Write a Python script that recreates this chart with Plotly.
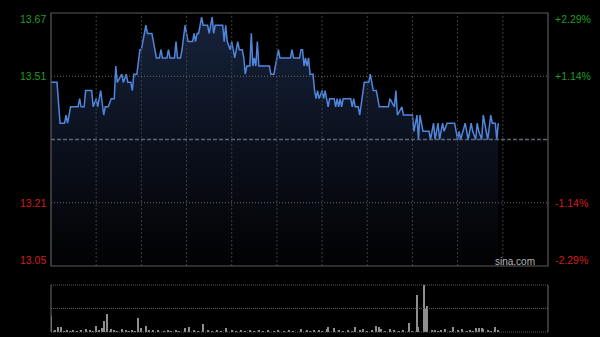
import plotly.graph_objects as go

# ---------------- data ----------------
minutes = [0, 4, 6, 9, 10, 11, 13, 18, 19, 20, 22, 23, 27, 28, 30, 31, 33, 35, 36, 38,
           40, 42, 43, 44, 47, 48, 50, 51, 53, 54, 55, 57, 59, 60, 63, 64, 67, 70, 72, 73,
           74, 77, 78, 79, 82, 83, 84, 86, 87, 89, 90, 91, 94, 95, 96, 97, 98, 100, 101, 104,
           105, 107, 108, 109, 114, 115, 116, 117, 119, 120, 121, 122, 123, 124, 125, 127, 128, 129, 130, 132,
           133, 134, 135, 136, 137, 138, 145, 146, 148, 149, 151, 152, 159, 160, 161, 165, 166, 167, 168, 169,
           170, 171, 172, 174, 175, 176, 177, 178, 180, 181, 182, 184, 185, 188, 189, 190, 191, 192, 193, 194,
           199, 200, 201, 202, 204, 205, 207, 208, 211, 212, 213, 214, 216, 218, 224, 225, 228, 229, 230, 233,
           234, 240, 241, 243, 244, 245, 247, 251, 252, 254, 255, 257, 258, 260, 261, 263, 268, 269, 270, 271,
           272, 275, 277, 279, 280, 282, 283, 284, 286, 287, 289, 290, 292, 293, 295, 296, 297]
prices = [13.50, 13.50, 13.40, 13.40, 13.42, 13.40, 13.44, 13.44, 13.46, 13.44, 13.44, 13.48, 13.48, 13.44, 13.46, 13.44, 13.48, 13.42, 13.44, 13.44,
          13.46, 13.46, 13.54, 13.50, 13.52, 13.50, 13.52, 13.50, 13.50, 13.48, 13.52, 13.52, 13.58, 13.58, 13.64, 13.62, 13.62, 13.56, 13.56, 13.58,
          13.56, 13.56, 13.58, 13.56, 13.56, 13.60, 13.56, 13.56, 13.58, 13.64, 13.62, 13.60, 13.60, 13.62, 13.60, 13.62, 13.62, 13.66, 13.64, 13.64,
          13.62, 13.66, 13.62, 13.64, 13.64, 13.60, 13.64, 13.60, 13.58, 13.60, 13.58, 13.56, 13.58, 13.60, 13.58, 13.58, 13.56, 13.52, 13.54, 13.54,
          13.62, 13.54, 13.56, 13.54, 13.60, 13.54, 13.54, 13.52, 13.52, 13.54, 13.58, 13.56, 13.56, 13.58, 13.56, 13.56, 13.58, 13.58, 13.54, 13.56,
          13.54, 13.56, 13.52, 13.52, 13.48, 13.46, 13.48, 13.46, 13.48, 13.46, 13.48, 13.44, 13.46, 13.46, 13.44, 13.46, 13.44, 13.46, 13.44, 13.46,
          13.46, 13.44, 13.46, 13.44, 13.44, 13.42, 13.48, 13.50, 13.50, 13.52, 13.50, 13.48, 13.48, 13.44, 13.44, 13.46, 13.44, 13.48, 13.42, 13.44,
          13.42, 13.42, 13.38, 13.42, 13.36, 13.42, 13.38, 13.38, 13.36, 13.40, 13.36, 13.40, 13.36, 13.40, 13.38, 13.40, 13.40, 13.38, 13.36, 13.38,
          13.36, 13.40, 13.36, 13.40, 13.38, 13.36, 13.40, 13.38, 13.36, 13.42, 13.38, 13.36, 13.42, 13.40, 13.40, 13.36, 13.40]

vol_minutes = [0, 5, 7, 20, 23, 30, 34, 35, 37, 40, 47, 58, 60, 63, 68, 89, 92, 101, 116,
               166, 175, 183, 184, 188, 202, 207, 216, 218, 219, 225, 238, 243, 244, 248, 249, 250,
               255, 262, 267, 273, 282, 284, 286, 287, 295]
vol_values = [163, 47, 47, 20, 30, 63, 37, 110, 177, 27, 30, 143, 37, 63, 20, 37, 53, 80, 37,
              30, 20, 30, 47, 37, 47, 30, 63, 53, 30, 30, 93, 370, 53, 470, 237, 260,
              20, 30, 47, 30, 37, 37, 37, 30, 53]
small_minutes = [2, 3, 9, 11, 13, 15, 17, 26, 28, 32, 39, 42, 44, 50, 52, 54, 56, 65, 71, 75,
                 78, 80, 83, 85, 95, 98, 104, 107, 110, 113, 120, 123, 126, 129, 132, 135, 138, 141, 144, 148,
                 151, 155, 158, 161, 170, 172, 178, 180, 191, 194, 197, 200, 205, 210, 213, 222, 228, 231, 234, 240,
                 253, 257, 259, 265, 270, 276, 278, 280, 290, 292, 297]
small_values = [10, 12, 10, 15, 8, 12, 10, 15, 10, 12, 10, 15, 10, 12, 10, 15, 10, 12, 15, 10,
                12, 10, 15, 10, 12, 10, 15, 10, 12, 10, 15, 10, 12, 10, 15, 10, 12, 10, 15, 10,
                12, 10, 15, 10, 12, 10, 15, 10, 12, 10, 15, 10, 12, 10, 15, 10, 12, 10, 15, 10,
                12, 10, 15, 10, 12, 10, 15, 10, 12, 10, 15]

prev_close = 13.36
y_low, y_high = 13.05, 13.67
left_labels = ["13.67", "13.51", "13.21", "13.05"]
right_labels = ["+2.29%", "+1.14%", "-1.14%", "-2.29%"]
grid_minutes = [30, 60, 90, 120, 150, 180, 210, 240, 270, 300]
session_minutes = 330
vol_max = 470

# ---------------- figure ----------------
W, H = 600, 337
xdom = [51 / W, 548 / W]
ydom_main = [(H - 266) / H, (H - 13) / H]
ydom_vol = [(H - 332) / H, (H - 285) / H]

GREEN = "#1e9e1e"
RED = "#d41a1a"
FONT = "Arial, Liberation Sans, sans-serif"

fig = go.Figure()
fig.add_trace(go.Scatter(
    x=minutes, y=prices, mode="lines",
    line=dict(color="#4f86dc", width=1.5),
    fill="tozeroy",
    fillgradient=dict(type="vertical", start=y_low, stop=y_high,
                      colorscale=[[0, "#020203"], [0.5, "#0b111e"], [1, "#17233c"]]),
    hoverinfo="skip", xaxis="x", yaxis="y"))

all_vm = vol_minutes + small_minutes
all_vv = vol_values + small_values
fig.add_trace(go.Bar(
    x=all_vm, y=all_vv, width=0.8,
    marker=dict(color="#8e8e8e", line=dict(width=0)),
    hoverinfo="skip", xaxis="x2", yaxis="y2"))

ax_common = dict(showgrid=False, zeroline=False, showticklabels=False, ticks="",
                 showline=False, fixedrange=True)
fig.update_layout(
    width=W, height=H,
    margin=dict(l=0, r=0, t=0, b=0),
    paper_bgcolor="#000000", plot_bgcolor="#000000",
    showlegend=False, bargap=0,
    xaxis=dict(domain=xdom, range=[0, session_minutes], anchor="y", **ax_common),
    yaxis=dict(domain=ydom_main, range=[y_low, y_high], anchor="x", **ax_common),
    xaxis2=dict(domain=xdom, range=[0, session_minutes], anchor="y2", **ax_common),
    yaxis2=dict(domain=ydom_vol, range=[0, vol_max], anchor="x2", **ax_common),
)

shapes = []
# vertical dotted grid lines (main panel)
for m in grid_minutes:
    shapes.append(dict(type="line", xref="x", yref="y domain", x0=m, x1=m, y0=0, y1=1,
                       line=dict(color="#3e3e3e", width=1, dash="2px,2px"), layer="above"))
# quarter-level horizontal grid lines
for lv in [(y_high + prev_close) / 2, (y_low + prev_close) / 2]:
    shapes.append(dict(type="line", xref="x domain", yref="y", x0=0, x1=1, y0=lv, y1=lv,
                       line=dict(color="#6c6c6c", width=1, dash="1px,2px"), layer="above"))
# previous close line
shapes.append(dict(type="line", xref="x domain", yref="y", x0=0, x1=1, y0=prev_close, y1=prev_close,
                   line=dict(color="#5f6675", width=1.5, dash="4px,2px"), layer="above"))
# main border
shapes.append(dict(type="rect", xref="x domain", yref="y domain", x0=0, x1=1, y0=0, y1=1,
                   line=dict(color="#5a5a5a", width=1.2), fillcolor="rgba(0,0,0,0)", layer="above"))
# volume panel frame
for yy in [0, 0.5, 1]:
    shapes.append(dict(type="line", xref="x2 domain", yref="y2 domain", x0=0, x1=1, y0=yy, y1=yy,
                       line=dict(color="#5c5c5c", width=1, dash="1px,1px"), layer="above"))
for xx in [0, 1]:
    shapes.append(dict(type="line", xref="x2 domain", yref="y2 domain", x0=xx, x1=xx, y0=0, y1=1,
                       line=dict(color="#5c5c5c", width=1.2), layer="above"))
fig.update_layout(shapes=shapes)

levels = [y_high, (y_high + prev_close) / 2, (y_low + prev_close) / 2, y_low]
anchors = ["top", "middle", "middle", "bottom"]
shifts = [2, 0, 0, -2]
colors = [GREEN, GREEN, RED, RED]
ann = []
for lv, anc, sh, col, lt, rt in zip(levels, anchors, shifts, colors, left_labels, right_labels):
    ann.append(dict(xref="paper", yref="y", x=48 / W, y=lv, text=lt, showarrow=False, yshift=sh,
                    xanchor="right", yanchor=anc, font=dict(family=FONT, size=10.5, color=col)))
    ann.append(dict(xref="paper", yref="y", x=553 / W, y=lv, text=rt, showarrow=False, yshift=sh,
                    xanchor="left", yanchor=anc, font=dict(family=FONT, size=10.5, color=col)))
ann.append(dict(xref="paper", yref="paper", x=537 / W, y=(H - 261.7) / H, text="sina.com",
                showarrow=False, xanchor="right", yanchor="middle",
                font=dict(family=FONT, size=10, color="#b4b4b4")))
fig.update_layout(annotations=ann)

fig.write_html("out.html", config={"displayModeBar": False})
